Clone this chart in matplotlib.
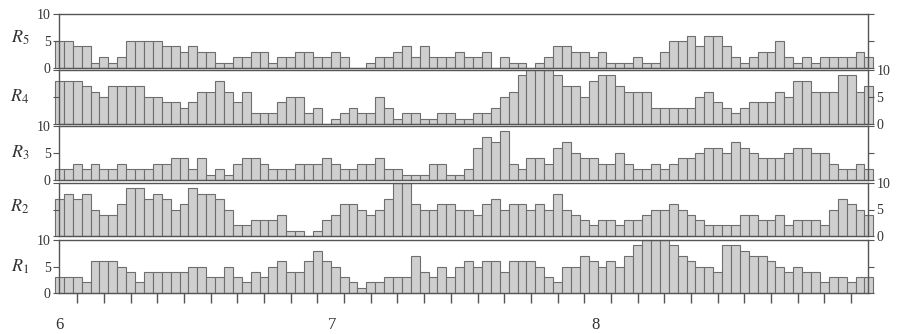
import numpy as np
import matplotlib
matplotlib.use("Agg")
import matplotlib.pyplot as plt

plt.rcParams["font.family"] = ["Liberation Serif", "DejaVu Serif"]
plt.rcParams["mathtext.fontset"] = "stix"

# ---------------------------------------------------------------------------
# Data: daily values, 1 June .. 31 August (92 days), one list per series
# ---------------------------------------------------------------------------
r5 = [5, 5, 4, 4, 1, 2, 1, 2, 5, 5, 5, 5, 4, 4, 3, 4, 3, 3, 1, 1, 2, 2, 3, 3, 1, 2, 2,
      3, 3, 2, 2, 3, 2, 0, 0, 1, 2, 2, 3, 4, 2, 4, 2, 2, 2, 3, 2, 2, 3, 0, 2, 1, 1, 0, 1, 2, 4, 4, 3, 3,
      2, 3, 1, 1, 1, 2, 1, 1, 3, 5, 5, 6, 4, 6, 6, 4, 2, 1, 2, 3, 3, 5, 2, 1, 2, 1, 2, 2, 2, 2, 3, 2]
r4 = [8, 8, 8, 7, 6, 5, 7, 7, 7, 7, 5, 5, 4, 4, 3, 4, 6, 6, 8, 6, 4, 6, 2, 2, 2, 4, 5,
      5, 2, 3, 0, 1, 2, 3, 2, 2, 5, 3, 1, 2, 2, 1, 1, 2, 2, 1, 1, 2, 2, 3, 5, 6, 9, 10, 10, 10, 9, 7, 7, 5,
      8, 9, 9, 7, 6, 6, 6, 3, 3, 3, 3, 3, 5, 6, 4, 3, 2, 3, 4, 4, 4, 6, 5, 8, 8, 6, 6, 6, 9, 9, 6, 7]
r3 = [2, 2, 3, 2, 3, 2, 2, 3, 2, 2, 2, 3, 3, 4, 4, 2, 4, 1, 2, 1, 3, 4, 4, 3, 2, 2, 2,
      3, 3, 3, 4, 3, 2, 2, 3, 3, 4, 2, 2, 1, 1, 1, 3, 3, 1, 1, 2, 6, 8, 7, 9, 3, 2, 4, 4, 3, 6, 7, 5, 4,
      4, 3, 3, 5, 3, 2, 2, 3, 2, 3, 4, 4, 5, 6, 6, 5, 7, 6, 5, 4, 4, 4, 5, 6, 6, 5, 5, 3, 2, 2, 3, 2]
r2 = [7, 8, 7, 8, 5, 4, 4, 6, 9, 9, 7, 8, 7, 5, 6, 9, 8, 8, 7, 5, 2, 2, 3, 3, 3, 4, 1,
      1, 0, 1, 3, 4, 6, 6, 5, 4, 5, 7, 10, 10, 6, 5, 5, 6, 6, 5, 5, 4, 6, 7, 5, 6, 6, 5, 6, 5, 8, 5, 4, 3,
      2, 3, 3, 2, 3, 3, 4, 5, 5, 6, 5, 4, 3, 2, 2, 2, 2, 4, 4, 3, 3, 4, 2, 3, 3, 3, 2, 5, 7, 6, 5, 4]
r1 = [3, 3, 3, 2, 6, 6, 6, 5, 4, 2, 4, 4, 4, 4, 4, 5, 5, 3, 3, 5, 3, 2, 4, 3, 5, 6, 4,
      4, 6, 8, 6, 5, 3, 2, 1, 2, 2, 3, 3, 3, 7, 4, 3, 5, 3, 5, 6, 5, 6, 6, 4, 6, 6, 6, 5, 3, 2, 5, 5, 7,
      6, 5, 6, 5, 7, 9, 10, 10, 10, 9, 7, 6, 5, 5, 4, 9, 9, 8, 7, 7, 6, 5, 4, 5, 4, 4, 2, 3, 3, 2, 3, 3]

series = [r5, r4, r3, r2, r1]
names = [r"$R_5$", r"$R_4$", r"$R_3$", r"$R_2$", r"$R_1$"]
month_labels = ["6", "7", "8"]
month_pos = [0.5, 31.2, 60.8]      # where the month numbers sit (day index)

days = np.arange(len(r1))

# ---------------------------------------------------------------------------
# Layout (pixels of the 897x334 figure)
# ---------------------------------------------------------------------------
W, H = 897, 334
X0, X1 = 59, 868
tops = [14, 70, 126, 183, 240]
bases = [68, 124, 180, 236, 293]
label_y = [38, 97, 153, 207, 267]

FACE = "#cfcfcf"
EDGE = "#6e6e6e"
INK = "#333333"

fig = plt.figure(figsize=(W / 100, H / 100), dpi=100)

for i, (vals, name) in enumerate(zip(series, names)):
    ax = fig.add_axes([X0 / W, 1 - bases[i] / H, (X1 - X0) / W, (bases[i] - tops[i]) / H])
    ax.bar(days, vals, width=1.0, align="edge", color=FACE, edgecolor=EDGE,
           linewidth=0.8, clip_on=False)
    ax.set_xlim(0.45, 91.4)
    ax.set_ylim(0, 10)
    ax.patch.set_alpha(0)

    for sp in ax.spines.values():
        sp.set_color("#555555")
        sp.set_linewidth(1.0)

    ax.set_yticks([0, 5, 10])
    ax.set_yticklabels(["0", "5", "10"])
    on_left = (i % 2 == 0)
    ax.tick_params(axis="y", direction="out", length=4, width=0.8, color="#555555",
                   left=True, right=True, labelleft=on_left, labelright=not on_left,
                   labelsize=10, labelcolor=INK, pad=2)

    if i < 4:
        ax.tick_params(axis="x", which="both", bottom=False, labelbottom=False)
    else:
        ax.set_xticks(month_pos)
        ax.set_xticklabels(month_labels)
        ax.set_xticks(np.arange(2.5, 90, 3), minor=True)
        ax.tick_params(axis="x", which="major", length=0, pad=17,
                       labelsize=12, labelcolor=INK)
        ax.tick_params(axis="x", which="minor", bottom=True, direction="out",
                       length=7, width=1.0, color="#555555")

    fig.text(20 / W, 1 - label_y[i] / H, name, fontsize=13, color=INK,
             ha="center", va="center")

fig.savefig("out.png", dpi=100)
